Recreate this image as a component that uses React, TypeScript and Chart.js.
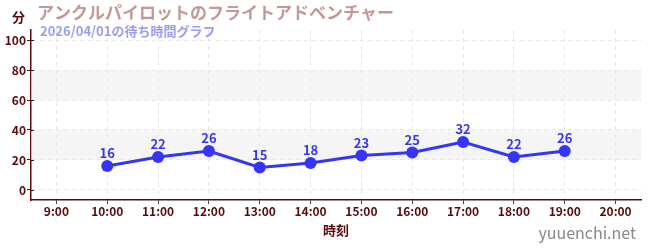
import React, { useEffect, useRef } from "react";
import { Chart, registerables } from "chart.js";

Chart.register(...registerables);

const hours = ["9:00", "10:00", "11:00", "12:00", "13:00", "14:00", "15:00", "16:00", "17:00", "18:00", "19:00", "20:00"];
const waits: (number | null)[] = [null, 16, 22, 26, 15, 18, 23, 25, 32, 22, 26, null];
const yTicks = [0, 10, 20, 30, 40, 50, 60, 70, 80, 90, 100];
const bands = [[20, 40], [60, 80]];
const titleText = "アンクルパイロットのフライトアドベンチャー";
const subtitleText = "2026/04/01の待ち時間グラフ";
const yUnit = "分";
const xTitle = "時刻";
const watermark = "yuuenchi.net";

const FONT = '"Noto Sans CJK JP", "Noto Sans", sans-serif';
const BLUE = "#3535f5";
const AXIS = "#5a0a0a";

export default function App() {
  const ref = useRef<HTMLCanvasElement>(null);
  useEffect(() => {
    document.body.style.margin = "0";
    const bandPlugin = {
      id: "bands",
      beforeDatasetsDraw(chart: any) {
        const { ctx, chartArea, scales } = chart;
        ctx.save();
        ctx.fillStyle = "rgba(235,235,235,0.5)";
        for (const [a, b] of bands) {
          const y1 = scales.y.getPixelForValue(b);
          const y2 = scales.y.getPixelForValue(a);
          ctx.fillRect(chartArea.left, y1, chartArea.right - chartArea.left, y2 - y1);
        }
        ctx.restore();
      },
      afterDraw(chart: any) {
        const { ctx, scales, chartArea } = chart;
        ctx.save();
        // major tick crossing on the y axis
        ctx.strokeStyle = "#222";
        ctx.lineWidth = 1;
        for (const v of yTicks) {
          if (v % 20 !== 0) continue;
          const y = Math.round(scales.y.getPixelForValue(v)) + 0.5;
          ctx.beginPath();
          ctx.moveTo(chartArea.left, y);
          ctx.lineTo(chartArea.left + 3, y);
          ctx.stroke();
        }
        ctx.textBaseline = "middle";
        ctx.textAlign = "left";
        ctx.fillStyle = AXIS;
        ctx.font = `bold 13px ${FONT}`;
        ctx.fillText(yUnit, 12, 17);
        ctx.fillStyle = "#c49898";
        ctx.font = `bold 17px ${FONT}`;
        ctx.fillText(titleText, 37, 13);
        ctx.fillStyle = "#9c9cf0";
        ctx.font = `bold 13px ${FONT}`;
        ctx.fillText(subtitleText, 40, 31);
        ctx.fillStyle = "#888";
        ctx.font = `16px ${FONT}`;
        ctx.textAlign = "right";
        ctx.fillText(watermark, 636, 233);
        // data labels
        const meta = chart.getDatasetMeta(0);
        ctx.fillStyle = BLUE;
        ctx.font = `bold 13px ${FONT}`;
        ctx.textAlign = "center";
        ctx.textBaseline = "bottom";
        meta.data.forEach((pt: any, i: number) => {
          const v = waits[i];
          if (v == null) return;
          ctx.fillText(String(v), pt.x, pt.y - 6);
        });
        ctx.restore();
      },
    };
    const chart = new Chart(ref.current!, {
      type: "line",
      data: {
        labels: hours,
        datasets: [
          {
            data: waits,
            borderColor: BLUE,
            backgroundColor: BLUE,
            borderWidth: 3,
            pointRadius: 6,
            pointBackgroundColor: BLUE,
            pointBorderWidth: 0,
            tension: 0,
            spanGaps: false,
          },
        ],
      },
      options: {
        animation: false,
        responsive: false,
        maintainAspectRatio: false,
        layout: { padding: { top: 30, right: 9, left: 0, bottom: 10 } },
        plugins: { legend: { display: false }, tooltip: { enabled: false }, title: { display: false } },
        scales: {
          x: {
            type: "category",
            offset: true,
            grid: {
              offset: false,
              color: "rgba(220,220,220,0.7)",
              tickColor: "#444",
              tickLength: 4,
            },
            border: { color: AXIS, width: 1.5, dash: [4, 4] },
            ticks: { color: AXIS, font: { family: FONT, size: 12, weight: "bold" }, padding: 0, maxRotation: 0 },
            title: { display: true, text: xTitle, color: AXIS, font: { family: FONT, size: 13, weight: "bold" }, padding: { top: 4, bottom: 2 } },
            afterFit(scale: any) { scale.height = 40; },
          },
          y: {
            min: -6.7,
            max: 106.7,
            afterBuildTicks(scale: any) { scale.ticks = yTicks.map((v) => ({ value: v })); },
            grid: {
              color: (c: any) => (c.tick && c.tick.value % 20 === 0 ? "rgba(220,220,220,0.7)" : "rgba(0,0,0,0)"),
              tickColor: (c: any) => (c.tick && c.tick.value % 20 === 0 ? "#222" : "#e01010"),
              tickLength: 4,
            },
            border: { color: AXIS, width: 1.5, dash: [4, 4] },
            ticks: {
              color: AXIS,
              font: { family: FONT, size: 12, weight: "bold" },
              padding: 1,
              callback: (v: any) => (Number(v) % 20 === 0 ? String(v) : ""),
            },
            afterFit(scale: any) { scale.width = 31; },
          },
        },
      },
      plugins: [bandPlugin],
    } as any);
    return () => chart.destroy();
  }, []);
  return (
    <div style={{ position: "absolute", left: 0, top: 0, width: 650, height: 250 }}>
      <canvas ref={ref} width={650} height={250} />
    </div>
  );
}
